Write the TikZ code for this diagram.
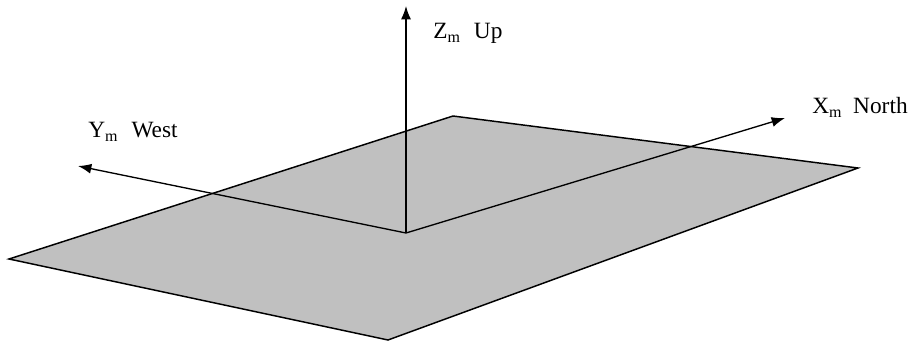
\documentclass[tikz,border=0pt]{standalone}
\usepackage{fontspec}
\setmainfont{Liberation Serif}
\usetikzlibrary{arrows.meta}
\definecolor{planegray}{RGB}{192,192,192}
\newcommand{\subm}{\raisebox{-3.5pt}{\fontsize{12}{12}\selectfont m}}

\begin{document}
\begin{tikzpicture}[x=0.75pt,y=-0.75pt,>={Latex[length=10pt,width=7.5pt]},
    axislabel/.style={anchor=base west,inner sep=0pt,font=\fontsize{17.5}{21}\selectfont}]
  \useasboundingbox (0,0) rectangle (915,343);
  % ground plane
  \coordinate (pN) at (453,116);
  \coordinate (pE) at (858,168);
  \coordinate (pS) at (388,340);
  \coordinate (pW) at (9,259);
  \draw[line width=1.1pt,fill=planegray] (pN) -- (pE) -- (pS) -- (pW) -- cycle;
  % frame axes
  \coordinate (O) at (406,233);
  \coordinate (Xend) at (785,118);
  \coordinate (Yend) at (78,166);
  \coordinate (Zend) at (406,6);
  \draw[->,line width=1pt] (O) -- (Xend);
  \draw[->,line width=1pt] (O) -- (Yend);
  \draw[->,line width=1pt] (O) -- (Zend);
  \node[axislabel] (xlab) at (812,113) {X\subm\hspace{0.5em}North};
  \node[axislabel] (ylab) at (88,137) {Y\subm\hspace{0.6em}West};
  \node[axislabel] (zlab) at (433,38) {Z\subm\hspace{0.6em}Up};
\end{tikzpicture}
\end{document}
